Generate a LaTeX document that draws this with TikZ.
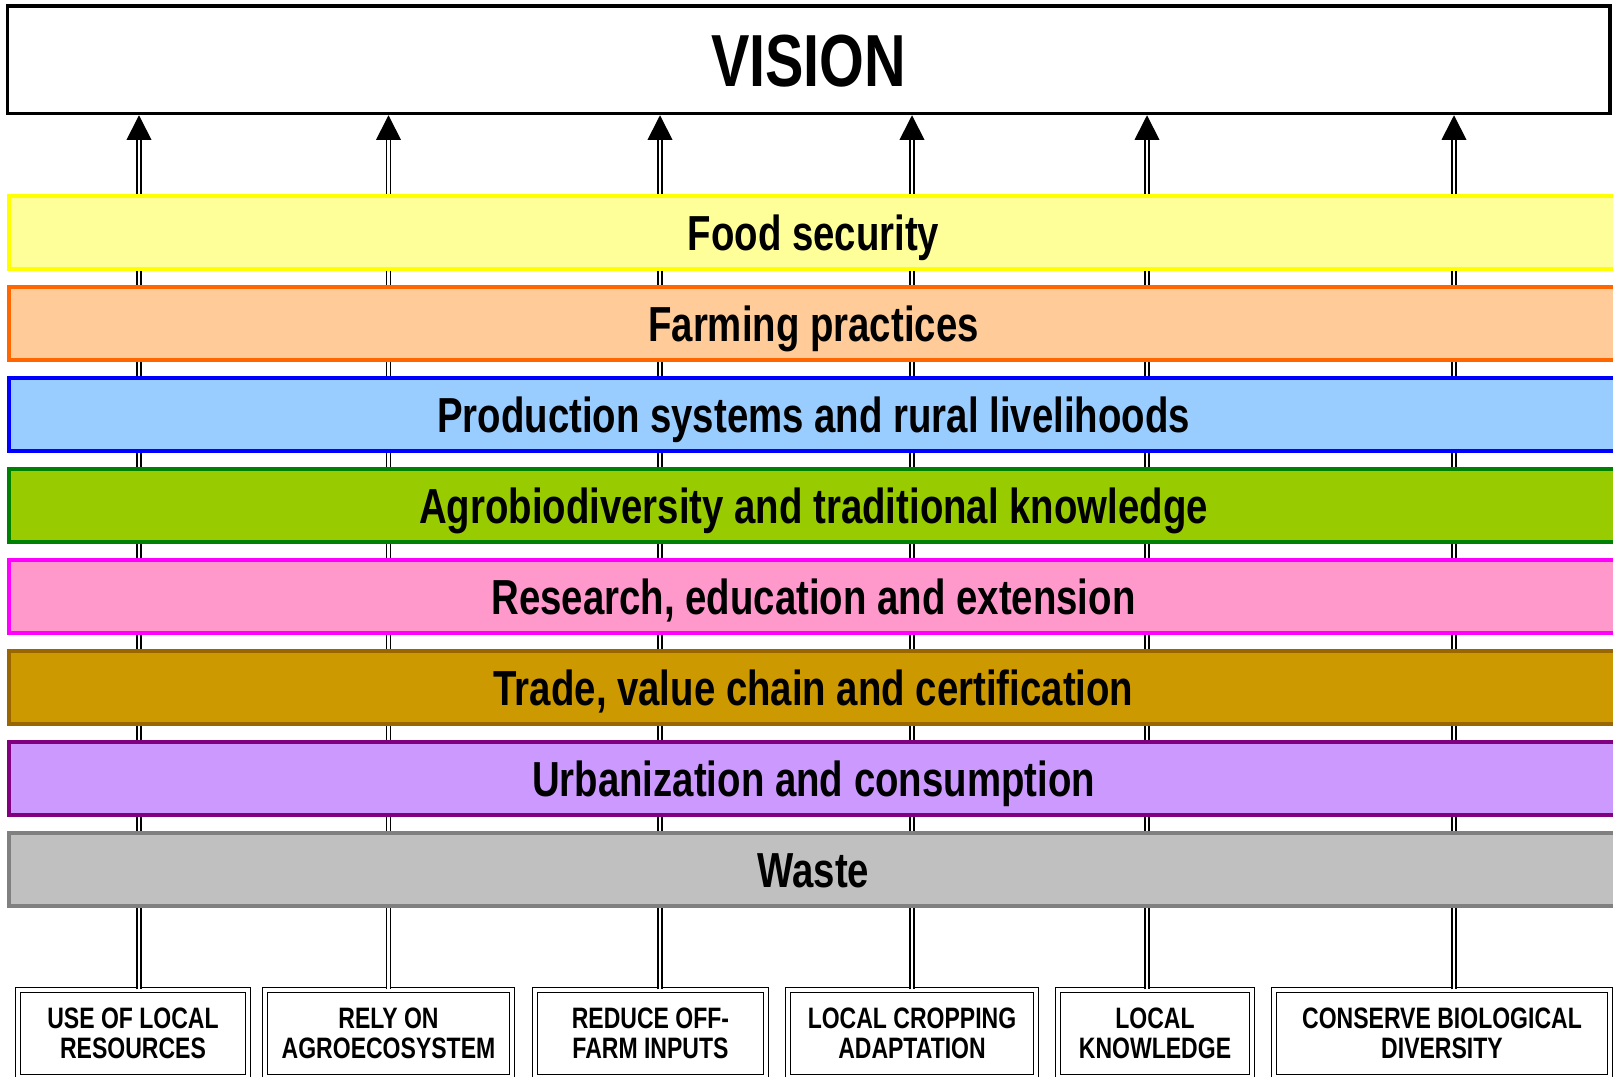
\documentclass[tikz,border=0pt]{standalone}
\usepackage{fontspec}
\setmainfont{Liberation Sans}[FakeStretch=0.78]
\usepackage{xcolor}
\usepackage{tikz}
\usetikzlibrary{positioning}
\usetikzlibrary{arrows.meta}
\definecolor{foodfill}{HTML}{FFFF99}
\definecolor{foodline}{HTML}{FFFF00}
\definecolor{farmfill}{HTML}{FFCC99}
\definecolor{farmline}{HTML}{FF6600}
\definecolor{prodfill}{HTML}{99CCFF}
\definecolor{prodline}{HTML}{0000FF}
\definecolor{agrofill}{HTML}{99CC00}
\definecolor{agroline}{HTML}{008000}
\definecolor{resfill}{HTML}{FF99CC}
\definecolor{resline}{HTML}{FF00FF}
\definecolor{tradefill}{HTML}{CC9900}
\definecolor{tradeline}{HTML}{996600}
\definecolor{urbfill}{HTML}{CC99FF}
\definecolor{urbline}{HTML}{800080}
\definecolor{wastefill}{HTML}{C0C0C0}
\definecolor{wasteline}{HTML}{808080}

\begin{document}
\begin{tikzpicture}[x=0.02cm,y=-0.02cm] % one unit is one pixel, y downwards
\tikzstyle{band}=[draw,line width=2pt,minimum width=32.18cm,minimum height=1.46cm,inner sep=0pt,text height=20pt,text depth=0pt,font=\bfseries\fontsize{28}{30}\selectfont]
\tikzstyle{vis}=[draw,line width=2pt,fill=white,minimum width=32.05cm,minimum height=2.15cm,inner sep=0pt,text height=30pt,text depth=0pt,font=\bfseries\fontsize{42}{44}\selectfont]
\tikzstyle{root}=[draw,double,line width=0.8pt,double distance=1.8pt,fill=white,minimum height=1.74cm,align=center,inner sep=0pt,font=\bfseries\fontsize{16.8}{17}\selectfont]
\tikzstyle{up}=[double,line width=0.95pt,double distance=1.4pt,-{Triangle[length=14pt,width=14pt]}]

\useasboundingbox (0,0) rectangle (1613,1077);

\draw (808.75,59.75) node[vis] (vision) {VISION}; % vision box on top

% the six roots at the bottom
\draw (133,1033.5) node[root,minimum width=4.6cm] (local) {USE OF LOCAL\\RESOURCES};
\draw (388.5,1033.5) node[root,minimum width=4.94cm] (agroeco) {RELY ON\\AGROECOSYSTEM};
\draw (650.5,1033.5) node[root,minimum width=4.62cm] (inputs) {REDUCE OFF-\\FARM INPUTS};
\draw (912,1033.5) node[root,minimum width=4.96cm] (cropping) {LOCAL CROPPING\\ADAPTATION};
\draw (1155,1033.5) node[root,minimum width=3.88cm] (knowledge) {LOCAL\\KNOWLEDGE};
\draw (1442,1033.5) node[root,minimum width=6.72cm] (diversity) {CONSERVE BIOLOGICAL\\DIVERSITY};

% arrows up to the vision, behind the bands
\foreach \n/\dx in {local/0.12cm,agroeco/0cm,inputs/0.19cm,cropping/0cm,knowledge/-0.16cm,diversity/0.24cm}
  \draw[up] ([xshift=\dx]\n.north) -- ([xshift=\dx]\n.north |- vision.south);

% the eight bands
\draw (813.5,232.5) node[band,draw=foodline,fill=foodfill] (food) {Food security}; % yellow
\draw (813.5,323.5) node[band,draw=farmline,fill=farmfill] (farming) {Farming practices}; % orange
\draw (813.5,414.5) node[band,draw=prodline,fill=prodfill] (production) {Production systems and rural livelihoods}; % blue
\draw (813.5,505.5) node[band,draw=agroline,fill=agrofill] (agrobio) {Agrobiodiversity and traditional knowledge}; % green
\draw (813.5,596.5) node[band,draw=resline,fill=resfill] (research) {Research, education and extension}; % pink
\draw (813.5,687.5) node[band,draw=tradeline,fill=tradefill] (trade) {Trade, value chain and certification}; % brown
\draw (813.5,778.5) node[band,draw=urbline,fill=urbfill] (urban) {Urbanization and consumption}; % purple
\draw (813.5,869.5) node[band,draw=wasteline,fill=wastefill] (waste) {Waste}; % grey
\end{tikzpicture}
\end{document}
